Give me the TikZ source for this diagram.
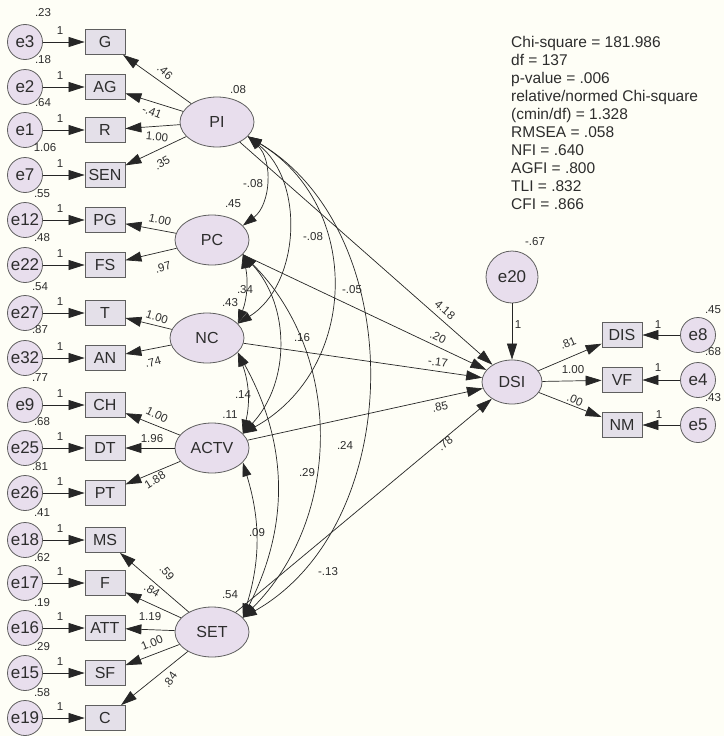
\documentclass[tikz,border=0pt]{standalone}
\usepackage{fontspec}
\setmainfont{Liberation Sans}
\usetikzlibrary{arrows.meta,shapes.geometric}
\definecolor{bgcream}{RGB}{254,254,246}
\definecolor{lilac}{RGB}{232,222,237}
\definecolor{boxgray}{RGB}{228,224,233}
\definecolor{edgegray}{RGB}{95,95,95}
\definecolor{inkgray}{RGB}{45,45,45}
\tikzset{
  errc/.style={circle, fill=lilac, draw=edgegray, line width=0.8pt, minimum size=35pt, inner sep=0pt, text=inkgray, font=\fontsize{17}{17}\selectfont},
  obsbox/.style={rectangle, fill=boxgray, draw=edgegray, line width=0.8pt, minimum width=40pt, minimum height=25pt, inner sep=0pt, text=inkgray, font=\fontsize{16}{16}\selectfont},
  latent/.style={ellipse, fill=lilac, draw=edgegray, line width=0.8pt, minimum width=74pt, minimum height=50pt, inner sep=0pt, text=inkgray, font=\fontsize{16}{16}\selectfont},
  lbl/.style={inner sep=0pt, text=inkgray, font=\fontsize{11.5}{12}\selectfont},
  stats/.style={inner sep=0pt, anchor=north west, align=left, text=inkgray, font=\fontsize{15.5}{18}\selectfont},
  reg/.style={draw=black!85, line width=0.7pt, -{Triangle[length=16pt,width=10pt]}},
  cov/.style={draw=black!85, line width=0.7pt, {Triangle[length=14pt,width=9pt]}-{Triangle[length=14pt,width=9pt]}}
}
\begin{document}
\begin{tikzpicture}[x=1pt,y=-1pt]
\fill[bgcream] (0,0) rectangle (724,736);
\node[errc] (e3) at (25,42) {e3};
\node[errc] (e2) at (25,87) {e2};
\node[errc] (e1) at (25,130) {e1};
\node[errc] (e7) at (25,175) {e7};
\node[errc] (e12) at (25,220) {e12};
\node[errc] (e22) at (25,265) {e22};
\node[errc] (e27) at (25,313) {e27};
\node[errc] (e32) at (25,358) {e32};
\node[errc] (e9) at (25,405) {e9};
\node[errc] (e25) at (25,448) {e25};
\node[errc] (e26) at (25,493) {e26};
\node[errc] (e18) at (25,540) {e18};
\node[errc] (e17) at (25,583) {e17};
\node[errc] (e16) at (25,628) {e16};
\node[errc] (e15) at (25,673) {e15};
\node[errc] (e19) at (25,718) {e19};
\node[obsbox] (G) at (105,42) {G};
\node[obsbox] (AG) at (105,87) {AG};
\node[obsbox] (R) at (105,130) {R};
\node[obsbox] (SEN) at (105,175) {SEN};
\node[obsbox] (PG) at (105,220) {PG};
\node[obsbox] (FS) at (105,265) {FS};
\node[obsbox] (T) at (105,313) {T};
\node[obsbox] (AN) at (105,358) {AN};
\node[obsbox] (CH) at (105,405) {CH};
\node[obsbox] (DT) at (105,448) {DT};
\node[obsbox] (PT) at (105,493) {PT};
\node[obsbox] (MS) at (105,540) {MS};
\node[obsbox] (F) at (105,583) {F};
\node[obsbox] (ATT) at (105,628) {ATT};
\node[obsbox] (SF) at (105,673) {SF};
\node[obsbox] (C) at (105,718) {C};
\node[latent] (PI) at (217,122) {PI};
\node[latent] (PC) at (212,240) {PC};
\node[latent] (NC) at (207,338) {NC};
\node[latent] (ACTV) at (212,448) {ACTV};
\node[latent] (SET) at (212,632) {SET};
\node[latent, minimum width=60pt, minimum height=44pt] (DSI) at (512,382) {DSI};
\node[errc, minimum size=52pt] (e20) at (512,277) {e20};
\node[obsbox] (DIS) at (622,335) {DIS};
\node[obsbox] (VF) at (622,380) {VF};
\node[obsbox] (NM) at (622,425) {NM};
\node[errc] (e8) at (698,335) {e8};
\node[errc] (e4) at (698,380) {e4};
\node[errc] (e5) at (698,425) {e5};
\draw[reg] (e3) -- (G);
\draw[reg] (e2) -- (AG);
\draw[reg] (e1) -- (R);
\draw[reg] (e7) -- (SEN);
\draw[reg] (e12) -- (PG);
\draw[reg] (e22) -- (FS);
\draw[reg] (e27) -- (T);
\draw[reg] (e32) -- (AN);
\draw[reg] (e9) -- (CH);
\draw[reg] (e25) -- (DT);
\draw[reg] (e26) -- (PT);
\draw[reg] (e18) -- (MS);
\draw[reg] (e17) -- (F);
\draw[reg] (e16) -- (ATT);
\draw[reg] (e15) -- (SF);
\draw[reg] (e19) -- (C);
\draw[reg] (PI) -- (G);
\draw[reg] (PI) -- (AG);
\draw[reg] (PI) -- (R);
\draw[reg] (PI) -- (SEN);
\draw[reg] (PC) -- (PG);
\draw[reg] (PC) -- (FS);
\draw[reg] (NC) -- (T);
\draw[reg] (NC) -- (AN);
\draw[reg] (ACTV) -- (CH);
\draw[reg] (ACTV) -- (DT);
\draw[reg] (ACTV) -- (PT);
\draw[reg] (SET) -- (MS);
\draw[reg] (SET) -- (F);
\draw[reg] (SET) -- (ATT);
\draw[reg] (SET) -- (SF);
\draw[reg] (SET) -- (C);
\draw[reg] (PI) -- (DSI);
\draw[reg] (PC) -- (DSI);
\draw[reg] (NC) -- (DSI);
\draw[reg] (ACTV) -- (DSI);
\draw[reg] (SET) -- (DSI);
\draw[reg] (e20) -- (DSI);
\draw[reg] (DSI) -- (DIS);
\draw[reg] (DSI) -- (VF);
\draw[reg] (DSI) -- (NM);
\draw[reg] (e8) -- (DIS);
\draw[reg] (e4) -- (VF);
\draw[reg] (e5) -- (NM);
\draw[cov] (PI.-25) to[bend left=50] (PC.25);
\draw[cov] (PI.-25) to[bend left=55] (NC.25);
\draw[cov] (PI.-25) to[bend left=60, looseness=1.15] (ACTV.25);
\draw[cov] (PI.-25) to[bend left=60] (SET.25);
\draw[cov] (PC.-25) to[bend left=16] (NC.25);
\draw[cov] (PC.-25) to[bend left=43] (ACTV.25);
\draw[cov] (PC.-25) to[bend left=45] (SET.25);
\draw[cov] (NC.-25) to[bend left=17] (ACTV.25);
\draw[cov] (NC.-25) to[bend left=28] (SET.25);
\draw[cov] (ACTV.-25) to[bend left=17] (SET.25);
\node[lbl] (v3) at (43,13) {.23};
\node[lbl] (v2) at (43,60) {.18};
\node[lbl] (v1) at (43,103) {.64};
\node[lbl] (v7) at (45,148) {1.06};
\node[lbl] (v12) at (42,194) {.55};
\node[lbl] (v22) at (42,238) {.48};
\node[lbl] (v27) at (40,287) {.54};
\node[lbl] (v32) at (40,330) {.87};
\node[lbl] (v9) at (40,378) {.77};
\node[lbl] (v25) at (42,422) {.68};
\node[lbl] (v26) at (40,467) {.81};
\node[lbl] (v18) at (42,513) {.41};
\node[lbl] (v17) at (42,558) {.62};
\node[lbl] (v16) at (42,603) {.19};
\node[lbl] (v15) at (42,647) {.29};
\node[lbl] (v19) at (42,693) {.58};
\node[lbl] (w3) at (60,31) {1};
\node[lbl] (w2) at (60,76) {1};
\node[lbl] (w1) at (60,119) {1};
\node[lbl] (w7) at (60,164) {1};
\node[lbl] (w12) at (60,209) {1};
\node[lbl] (w22) at (60,254) {1};
\node[lbl] (w27) at (60,302) {1};
\node[lbl] (w32) at (60,347) {1};
\node[lbl] (w9) at (60,394) {1};
\node[lbl] (w25) at (60,437) {1};
\node[lbl] (w26) at (60,482) {1};
\node[lbl] (w18) at (60,529) {1};
\node[lbl] (w17) at (60,572) {1};
\node[lbl] (w16) at (60,617) {1};
\node[lbl] (w15) at (60,662) {1};
\node[lbl] (w19) at (60,707) {1};
\node[lbl] (vPI) at (238,90) {.08};
\node[lbl] (vPC) at (233,204) {.45};
\node[lbl] (vNC) at (230,303) {.43};
\node[lbl] (vACTV) at (230,415) {.11};
\node[lbl] (vSET) at (230,595) {.54};
\node[lbl, rotate=-41] (lG) at (165,72) {.46};
\node[lbl, rotate=-21] (lAG) at (152,112) {-.41};
\node[lbl, rotate=-5] (lR) at (157,137) {1.00};
\node[lbl, rotate=30] (lSEN) at (162,163) {.35};
\node[lbl, rotate=-13] (lPG) at (160,220) {1.00};
\node[lbl, rotate=16] (lFS) at (163,267) {.97};
\node[lbl, rotate=-17] (lT) at (157,317) {1.00};
\node[lbl, rotate=14] (lAN) at (153,362) {.74};
\node[lbl, rotate=-26] (lCH) at (157,415) {1.00};
\node[lbl] (lDT) at (152,439) {1.96};
\node[lbl, rotate=32] (lPT) at (155,480) {1.88};
\node[lbl, rotate=-50] (lMS) at (167,573) {.59};
\node[lbl, rotate=-30] (lF) at (152,590) {.84};
\node[lbl] (lATT) at (150,617) {1.19};
\node[lbl, rotate=22] (lSF) at (152,643) {1.00};
\node[lbl, rotate=55] (lC) at (170,680) {.84};
\node[lbl] (cPIPC) at (253,184) {-.08};
\node[lbl] (cPINC) at (313,237) {-.08};
\node[lbl] (cPIACTV) at (352,290) {-.05};
\node[lbl] (cPCNC) at (245,290) {.34};
\node[lbl] (cPCACTV) at (302,338) {.16};
\node[lbl] (cNCACTV) at (243,395) {.14};
\node[lbl] (cPCSET) at (345,445) {.24};
\node[lbl] (cNCSET) at (307,473) {.29};
\node[lbl] (cACTVSET) at (257,533) {.09};
\node[lbl] (cPISET) at (328,572) {-.13};
\node[lbl, rotate=-41] (bPI) at (445,310) {4.18};
\node[lbl, rotate=-25] (bPC) at (438,337) {.20};
\node[lbl, rotate=-8] (bNC) at (438,362) {-.17};
\node[lbl, rotate=12] (bACTV) at (440,407) {.85};
\node[lbl, rotate=40] (bSET) at (445,443) {.78};
\node[lbl] (w20) at (518,325) {1};
\node[lbl] (v20) at (535,242) {-.67};
\node[lbl, rotate=23] (lDIS) at (568,343) {.81};
\node[lbl] (lVF) at (573,370) {1.00};
\node[lbl, rotate=-23] (lNM) at (575,400) {.00};
\node[lbl] (w8) at (658,325) {1};
\node[lbl] (w4) at (658,368) {1};
\node[lbl] (w5) at (659,415) {1};
\node[lbl] (v8) at (713,310) {.45};
\node[lbl] (v4) at (713,352) {.68};
\node[lbl] (v5) at (713,398) {.43};
\node[stats] (fit) at (511,36) {Chi-square = 181.986\\df = 137\\p-value = .006\\relative/normed Chi-square\\(cmin/df) = 1.328\\RMSEA = .058\\NFI = .640\\AGFI = .800\\TLI = .832\\CFI = .866};
\end{tikzpicture}
\end{document}
